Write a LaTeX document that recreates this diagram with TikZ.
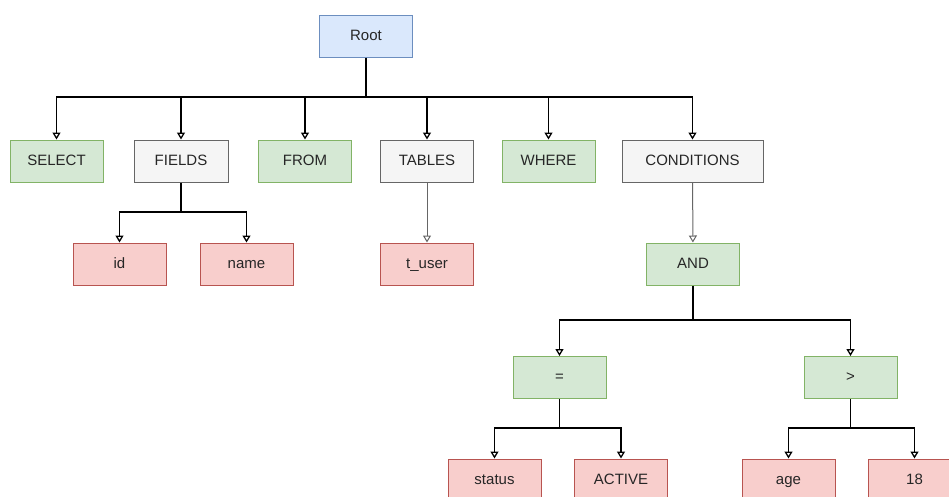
\documentclass[tikz,border=0pt]{standalone}
\usepackage{fontspec}
\setmainfont{Liberation Sans}
\usetikzlibrary{positioning,arrows.meta}

\definecolor{greenfill}{HTML}{D5E8D4}
\definecolor{greenline}{HTML}{82B366}
\definecolor{grayfill}{HTML}{F5F5F5}
\definecolor{grayline}{HTML}{666666}
\definecolor{redfill}{HTML}{F8CECC}
\definecolor{redline}{HTML}{B85450}
\definecolor{bluefill}{HTML}{DAE8FC}
\definecolor{blueline}{HTML}{6C8EBF}

\tikzset{
    box/.style={draw, line width=1pt, minimum width=93pt, minimum height=42pt,
        inner sep=0pt, text height=11pt, text depth=3pt,
        text=black!85, font=\fontsize{15}{17}\selectfont},
    rootbox/.style={box, draw=blueline, fill=bluefill},
    keybox/.style={box, draw=greenline, fill=greenfill},
    partbox/.style={box, draw=grayline, fill=grayfill},
    leafbox/.style={box, draw=redline, fill=redfill},
    link/.style={line width=1.3pt, black},
    edge/.style={link, -{Triangle[open,length=7pt,width=8pt]}},
    grayedge/.style={edge, line width=1pt, draw=grayline},
}

\begin{document}
\begin{tikzpicture}[x=1pt, y=-1pt]
    \clip (0,0) rectangle (949,496);
    \fill[white] (0,0) rectangle (949,496);

    % Root
    \node[rootbox] (root) at (366,36) {Root};

    % Clauses
    \node[keybox] (select) at (56.5,161) {SELECT};
    \node[partbox, minimum width=94pt] (fields) at (181,161) {FIELDS};
    \node[keybox] (from) at (305,161) {FROM};
    \node[partbox] (tables) at (427,161) {TABLES};
    \node[keybox] (where) at (548.5,161) {WHERE};
    \node[partbox, minimum width=141pt] (cond) at (692.5,161) {CONDITIONS};

    % Second level
    \node[leafbox] (id) at (119.5,264) {id};
    \node[leafbox] (name) at (246.5,264) {name};
    \node[leafbox] (tuser) at (427,264) {t\_user};
    \node[keybox] (and) at (693,264) {AND};

    % Operators
    \node[keybox] (eq) at (559.5,377.5) {=};
    \node[keybox] (gt) at (850.5,377.5) {>};

    % Operands
    \node[leafbox] (status) at (494.5,480) {status};
    \node[leafbox] (active) at (621,480) {ACTIVE};
    \node[leafbox] (age) at (788.5,480) {age};
    \node[leafbox] (eighteen) at (914.5,480) {18};

    % Bus points
    \coordinate (rootbus) at (366,97);
    \coordinate (fieldsbus) at (181,212);
    \coordinate (andbus) at (693,320);
    \coordinate (eqbus) at (559.5,428);
    \coordinate (gtbus) at (850.5,428);

    % Connectors
    \draw[link] (root) -- (rootbus);
    \foreach \n in {select,fields,from,tables,where,cond}
        \draw[edge] (rootbus) -| (\n);

    \draw[link] (fields) -- (fieldsbus);
    \draw[edge] (fieldsbus) -| (id);
    \draw[edge] (fieldsbus) -| (name);

    \draw[grayedge] (tables) -- (tuser);
    \draw[grayedge] (cond) -- (and);

    \draw[link] (and) -- (andbus);
    \draw[edge] (andbus) -| (eq);
    \draw[edge] (andbus) -| (gt);

    \draw[link] (eq) -- (eqbus);
    \draw[edge] (eqbus) -| (status);
    \draw[edge] (eqbus) -| (active);

    \draw[link] (gt) -- (gtbus);
    \draw[edge] (gtbus) -| (age);
    \draw[edge] (gtbus) -| (eighteen);
\end{tikzpicture}
\end{document}
